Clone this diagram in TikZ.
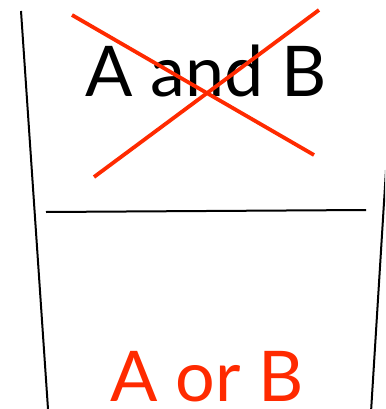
\documentclass[tikz,border=0pt]{standalone}
\usepackage{fontspec}
\setmainfont{Lato}
\definecolor{xred}{HTML}{FF2A00}
\begin{document}
\begin{tikzpicture}[x=1pt,y=-1pt,
  rule/.style={black,line width=2pt},
  cross/.style={xred,line width=3.8pt},
  big/.style={font=\fontsize{70}{70}\selectfont,inner sep=0pt,anchor=base,text depth=0pt}]
\useasboundingbox (0,0) rectangle (385,409);
\begin{scope}
\clip (0,0) rectangle (385,409);
\coordinate (l1) at (21,11);
\coordinate (l2) at (48,409);
\coordinate (r1) at (386,170);
\coordinate (r2) at (371,412);
\coordinate (h1) at (46,212);
\coordinate (h2) at (366,210);
\draw[rule] (l1) -- (l2);
\draw[rule] (r1) -- (r2);
\draw[rule] (h1) -- (h2);
\end{scope}
\node[big] (and) at (206,97) {A and B};
\node[big,text=xred] (or) at (207,401) {A or B};
\coordinate (c1) at (72,15);
\coordinate (c2) at (314,155);
\coordinate (c3) at (319,10);
\coordinate (c4) at (94,177);
\draw[cross] (c1) -- (c2);
\draw[cross] (c3) -- (c4);
\end{tikzpicture}
\end{document}
